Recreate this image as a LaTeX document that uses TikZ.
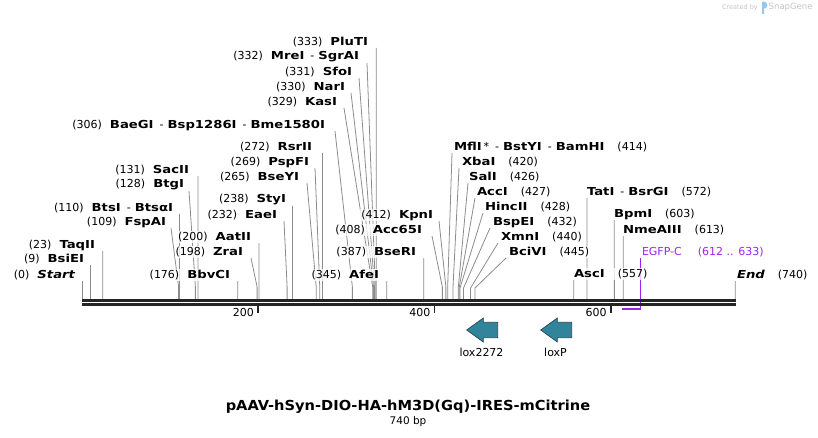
\documentclass[tikz,border=0pt]{standalone}
\usepackage{fontspec}
\setmainfont{DejaVu Sans}
\newfontfamily\enzfont{DejaVu Sans}[FakeStretch=1.2]
\newfontfamily\titlefont{DejaVu Sans}[FakeStretch=1.06]
\usetikzlibrary{calc}

\definecolor{cutgray}{RGB}{140,140,140}
\definecolor{bbdark}{RGB}{36,36,36}
\definecolor{featpurple}{RGB}{160,36,240}
\definecolor{loxteal}{RGB}{50,132,155}
\definecolor{loxedge}{RGB}{38,72,86}
\definecolor{logogray}{RGB}{196,196,196}
\definecolor{logoblue}{RGB}{150,200,235}

\pgfdeclarelayer{lines}
\pgfsetlayers{lines,main}

\newcommand{\enz}[1]{{\enzfont\bfseries #1}}
\newcommand{\dsep}{\hspace{6pt}-\hspace{4pt}}
\newcommand{\lgap}{\hspace{8pt}}
\newcommand{\rgap}{\hspace{13pt}}

% bp / label end x / label mid y / line top x / text
\newcommand{\leftsites}{%
  0/76/275/82.5/{(0)\lgap\enz{\itshape Start}},
  9/85/259/90.4/{(9)\lgap\enz{BsiEI}},
  23/96/245/102.8/{(23)\lgap\enz{TaqII}},
  109/167/222/171/{(109)\lgap\enz{FspAI}},
  110/174/208/179.5/{(110)\lgap\enz{BtsI}\dsep\enz{BtsαI}},
  128/185/185/189/{(128)\lgap\enz{BtgI}},
  131/190/170/198.0/{(131)\lgap\enz{SacII}},
  176/231/275/237.7/{(176)\lgap\enz{BbvCI}},
  198/244/252/251/{(198)\lgap\enz{ZraI}},
  200/252/237/258.9/{(200)\lgap\enz{AatII}},
  232/278/215/284/{(232)\lgap\enz{EaeI}},
  238/287/200/292.4/{(238)\lgap\enz{StyI}},
  265/300/177/307/{(265)\lgap\enz{BseYI}},
  269/310/162/315/{(269)\lgap\enz{PspFI}},
  272/313/147/322.4/{(272)\lgap\enz{RsrII}},
  306/326/125/335/{(306)\lgap\enz{BaeGI}\dsep\enz{Bsp1286I}\dsep\enz{Bme1580I}},
  329/338/102/344/{(329)\lgap\enz{KasI}},
  330/346/87/351/{(330)\lgap\enz{NarI}},
  331/353/72/359/{(331)\lgap\enz{SfoI}},
  332/360/57/367/{(332)\lgap\enz{MreI}\dsep\enz{SgrAI}},
  333/369/42/376.2/{(333)\lgap\enz{PluTI}},
  345/380/275/386.8/{(345)\lgap\enz{AfeI}},
  387/417/252/423.8/{(387)\lgap\enz{BseRI}},
  408/423/230/432/{(408)\lgap\enz{Acc65I}},
  412/434/215/439/{(412)\lgap\enz{KpnI}}}

% bp / label start x / label mid y / line top x / text
\newcommand{\rightsites}{%
  414/453/147/452/{\enz{MflI}\,*\dsep\enz{BstYI}\dsep\enz{BamHI}\rgap(414)},
  420/461/162/459/{\enz{XbaI}\rgap(420)},
  426/468/177/468/{\enz{SalI}\rgap(426)},
  427/476/192/475/{\enz{AccI}\rgap(427)},
  428/484/207/483/{\enz{HincII}\rgap(428)},
  432/492/222/490/{\enz{BspEI}\rgap(432)},
  440/500/237/498/{\enz{XmnI}\rgap(440)},
  445/508/252/506/{\enz{BciVI}\rgap(445)},
  557/573/274/573.8/{\enz{AscI}\rgap(557)},
  572/586/192/587.0/{\enz{TatI}\dsep\enz{BsrGI}\rgap(572)},
  603/613/214/614.3/{\enz{BpmI}\rgap(603)},
  613/622/230/623.2/{\enz{NmeAIII}\rgap(613)},
  740/736/275/735.2/{\enz{\itshape End}\rgap(740)}}

\begin{document}
\begin{tikzpicture}[x=1pt,y=-1pt,
    cutline/.style={draw=cutgray,line width=0.8pt},
    sitelab/.style={font=\fontsize{11}{13}\selectfont,inner sep=1pt,outer sep=0pt,
      fill=white,fill opacity=0.75,text opacity=1},
    backbone/.style={draw=bbdark,line width=2.6pt},
    tickline/.style={draw=bbdark,line width=1.8pt},
    loxarrow/.style={fill=loxteal,draw=loxedge,line width=0.7pt,line join=miter}]
\useasboundingbox (0,0) rectangle (818,438);

% left hand site labels
\foreach \bp/\xa/\ya/\lx/\txt [count=\i] in \leftsites {
  \pgfmathsetmacro{\sx}{82.5+0.882*\bp}
  \coordinate (ltop\i) at (\lx,\ya+6);
  \coordinate (lbend\i) at (\sx,287);
  \coordinate (lsite\i) at (\sx,299);
  \node[sitelab,anchor=east] (llab\i) at (\xa,\ya) {\txt};
  \begin{pgfonlayer}{lines}
    \draw[cutline] (ltop\i) -- (lbend\i) -- (lsite\i);
  \end{pgfonlayer}
}

% right hand site labels
\foreach \bp/\xa/\ya/\lx/\txt [count=\i] in \rightsites {
  \pgfmathsetmacro{\sx}{82.5+0.882*\bp}
  \coordinate (rtop\i) at (\lx,\ya+6);
  \coordinate (rbend\i) at (\sx,288);
  \coordinate (rsite\i) at (\sx,299);
  \node[sitelab,anchor=west] (rlab\i) at (\xa,\ya) {\txt};
  \begin{pgfonlayer}{lines}
    \draw[cutline] (rtop\i) -- (rbend\i) -- (rsite\i);
  \end{pgfonlayer}
}

% EGFP-C feature
\coordinate (egfpa) at (622.3,308.7);
\coordinate (egfpb) at (640.8,308.7);
\coordinate (egfptop) at (640.8,258);
\node[sitelab,anchor=west,text=featpurple] (egfplab) at (641,252) {EGFP-C\hspace{16pt}(612 .. 633)};
\begin{pgfonlayer}{lines}
  \draw[featpurple,line width=1pt] (egfptop) -- (egfpb);
  \draw[featpurple,line width=2pt] (egfpa) -- (egfpb);
\end{pgfonlayer}

% backbone
\coordinate (bbl) at (82,300.3);
\coordinate (bbr) at (736,300.3);
\draw[backbone] (bbl) -- (bbr);
\draw[backbone] ([yshift=-4pt]bbl) -- ([yshift=-4pt]bbr);

% ticks
\foreach \t in {200,400,600} {
  \pgfmathsetmacro{\tx}{82.5+0.882*\t-0.8}
  \coordinate (tk\t) at (\tx,305);
  \draw[tickline] (tk\t) -- ++(0,8);
  \node[font=\fontsize{11}{13}\selectfont,anchor=east,inner sep=0pt] (tklab\t) at (\tx-4,312) {\t};
}

% lox sites
\foreach \tx/\nm [count=\j] in {466.7/lox2272,540.7/loxP} {
  \draw[loxarrow] (\tx,330) -- ++(16.6,-12) -- ++(0,4.3) -- ++(14.4,0)
    -- ++(0,15.4) -- ++(-14.4,0) -- ++(0,4.3) -- cycle;
  \node[font=\fontsize{11}{13}\selectfont,inner sep=0pt] (lox\j) at (\tx+14.8,352) {\nm};
}

% title
\node[font=\fontsize{13.8}{16}\titlefont\bfseries,inner sep=0pt] (title) at (408,407)
  {pAAV-hSyn-DIO-HA-hM3D(Gq)-IRES-mCitrine};
\node[font=\fontsize{10.5}{12}\selectfont,inner sep=0pt] (size) at (408,422) {740 bp};

% logo
\node[font=\fontsize{6.5}{8}\selectfont,text=logogray,anchor=east,inner sep=0pt] (logoby) at (758,7.5) {Created by};
\fill[logoblue] (762,14) -- (762,2) -- (764,1.6) .. controls (768.5,2) and (768.5,8.5) .. (764,8.6) -- (764,14) -- cycle;
\node[font=\fontsize{8.5}{10}\selectfont,text=logogray,anchor=west,inner sep=0pt] (logosg) at (768.5,7.5) {SnapGene};
\end{tikzpicture}
\end{document}
